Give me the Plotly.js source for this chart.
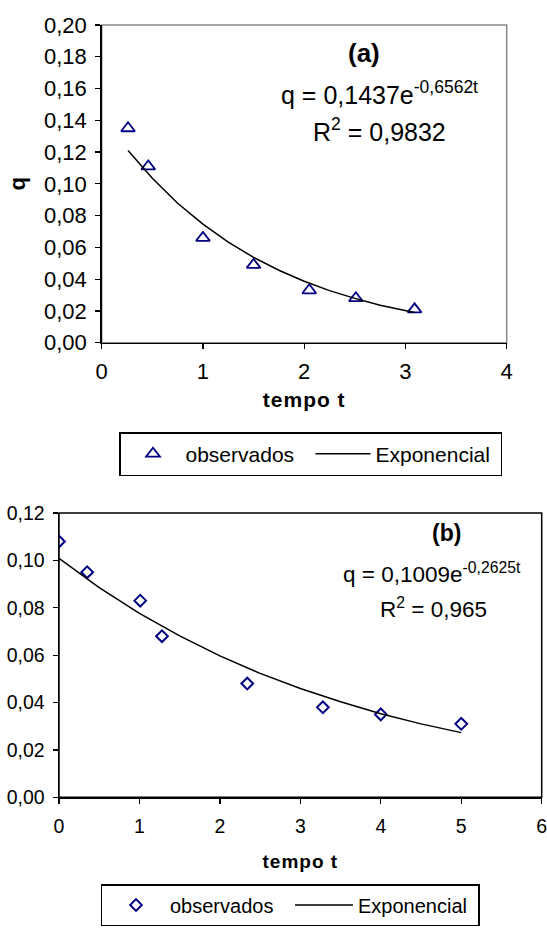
<!DOCTYPE html>
<html><head><meta charset="utf-8">
<script src="https://cdn.plot.ly/plotly-3.0.1.min.js"></script>
<style>
html,body{margin:0;padding:0;background:#fff;}
#chart{width:547px;height:931px;}
.xtitle,.x2title{letter-spacing:1px;}
</style></head>
<body><div id="chart"></div>
<script>
// ---- Chart (a) data ----
const tA_obs = [0.26, 0.46, 1.00, 1.50, 2.05, 2.51, 3.09];
const qA_obs = [0.135, 0.111, 0.066, 0.049, 0.033, 0.028, 0.021];
const tA_fit = [0.26, 0.50, 0.75, 1.00, 1.25, 1.50, 1.75, 2.00, 2.25, 2.50, 2.75, 3.09];
const qA_fit = [0.121, 0.1035, 0.0878, 0.0746, 0.0633, 0.0537, 0.0456, 0.0387, 0.0328, 0.0279, 0.0236, 0.0190];
const yTickValsA = [0, 0.02, 0.04, 0.06, 0.08, 0.10, 0.12, 0.14, 0.16, 0.18, 0.20];
const yTickTextA = ["0,00","0,02","0,04","0,06","0,08","0,10","0,12","0,14","0,16","0,18","0,20"];
const xTickValsA = [0, 1, 2, 3, 4];

// ---- Chart (b) data ----
const tB_obs = [0, 0.35, 1.01, 1.28, 2.34, 3.28, 4.00, 5.00];
const qB_obs = [0.108, 0.095, 0.083, 0.068, 0.048, 0.038, 0.035, 0.031];
const tB_fit = [0, 0.5, 1.0, 1.5, 2.0, 2.5, 3.0, 3.5, 4.0, 4.5, 5.0];
const qB_fit = [0.1009, 0.0885, 0.0776, 0.0681, 0.0597, 0.0523, 0.0459, 0.0403, 0.0353, 0.0310, 0.0273];
const yTickValsB = [0, 0.02, 0.04, 0.06, 0.08, 0.10, 0.12];
const yTickTextB = ["0,00","0,02","0,04","0,06","0,08","0,10","0,12"];
const xTickValsB = [0, 1, 2, 3, 4, 5, 6];

const legendNames = ["observados", "Exponencial"];
const xTitle = "tempo t";
const yTitleA = "q";
const eqA = "q = 0,1437e<sup>-0,6562t</sup>";
const r2A = "R<sup>2</sup> = 0,9832";
const eqB = "q = 0,1009e<sup>-0,2625t</sup>";
const r2B = "R<sup>2</sup> = 0,965";

const W = 547, H = 931;
const FONT = "Liberation Sans, Arial, sans-serif";
const navy = "#000080";

const traces = [
  {x: tA_obs, y: qA_obs, xaxis: 'x', yaxis: 'y', mode: 'markers', name: legendNames[0], legend: 'legend',
   marker: {symbol: 'triangle-up-open', size: 12, color: navy, line: {width: 1.8, color: navy}}},
  {x: tA_fit, y: qA_fit, xaxis: 'x', yaxis: 'y', mode: 'lines', name: legendNames[1], legend: 'legend',
   line: {color: '#000', width: 1.5}},
  {x: tB_obs, y: qB_obs, xaxis: 'x2', yaxis: 'y2', mode: 'markers', name: legendNames[0], legend: 'legend2',
   marker: {symbol: 'diamond-open', size: 9, color: navy, line: {width: 2, color: navy}}},
  {x: tB_fit, y: qB_fit, xaxis: 'x2', yaxis: 'y2', mode: 'lines', name: legendNames[1], legend: 'legend2',
   line: {color: '#000', width: 1.5}}
];

const dAx = [101.7/W, 506.7/W], dAy = [1-342.7/H, 1-25/H];
const dBx = [59/W, 541.7/W], dBy = [1-797.3/H, 1-513/H];

function mainAxis(dom, anchor, range, tv, tt, fs, extra) {
  return Object.assign({domain: dom, anchor: anchor, range: range, tickvals: tv, ticktext: tt,
    showgrid: false, zeroline: false, showline: true, linecolor: '#000', linewidth: 1.5,
    ticks: 'outside', ticklen: 5, tickwidth: 1.2, tickcolor: '#000', ticklabeloverflow: 'allow',
    tickfont: {family: FONT, size: fs, color: '#000'}, fixedrange: true}, extra || {});
}
function crossAxis(over, anchor, range, tv, dom) {
  return {domain: dom, overlaying: over, anchor: anchor, range: range, tickvals: tv, showticklabels: false,
    showgrid: false, zeroline: false, showline: false, ticks: 'inside', ticklen: 5, tickwidth: 1.2,
    tickcolor: '#000', fixedrange: true};
}

const layout = {
  width: W, height: H, margin: {l: 0, r: 0, t: 0, b: 0},
  paper_bgcolor: '#fff', plot_bgcolor: 'rgba(0,0,0,0)',
  font: {family: FONT, color: '#000'},
  xaxis: mainAxis(dAx, 'y', [0, 4], xTickValsA, xTickValsA.map(String), 22,
    {title: {text: '<b>' + xTitle + '</b>', font: {size: 21, family: FONT}, standoff: 9}, ticklabelstandoff: 3}),
  yaxis: mainAxis(dAy, 'x', [0, 0.20], yTickValsA, yTickTextA, 22,
    {title: {text: '<b>' + yTitleA + '</b>', font: {size: 22, family: FONT}, standoff: 12}, ticklabelstandoff: 4}),
  xaxis2: mainAxis(dBx, 'y2', [0, 6], xTickValsB, xTickValsB.map(String), 19.5,
    {title: {text: '<b>' + xTitle + '</b>', font: {size: 19, family: FONT}, standoff: 18}, ticklabelstandoff: 6}),
  yaxis2: mainAxis(dBy, 'x2', [0, 0.12], yTickValsB, yTickTextB, 19.5, {ticklabelstandoff: 4}),
  xaxis3: crossAxis('x', 'y', [0, 4], xTickValsA, dAx),
  yaxis3: crossAxis('y', 'x', [0, 0.20], yTickValsA, dAy),
  xaxis4: crossAxis('x2', 'y2', [0, 6], xTickValsB, dBx),
  yaxis4: crossAxis('y2', 'x2', [0, 0.12], yTickValsB, dBy),
  shapes: [
    {type: 'rect', xref: 'x domain', yref: 'y domain', x0: 0, x1: 1, y0: 0, y1: 1,
     line: {color: '#888', width: 1.5}, layer: 'below'},
    {type: 'rect', xref: 'x2 domain', yref: 'y2 domain', x0: 0, x1: 1, y0: 0, y1: 1,
     line: {color: '#000', width: 1.5}, layer: 'below'}
  ],
  annotations: [
    {xref: 'paper', yref: 'paper', x: 364/W, y: 1-53/H, text: '<b>(a)</b>', showarrow: false,
     font: {size: 26, family: FONT}, xanchor: 'center', yanchor: 'middle'},
    {xref: 'paper', yref: 'paper', x: 379/W, y: 1-93/H, text: eqA, showarrow: false,
     font: {size: 25, family: FONT}, xanchor: 'center', yanchor: 'middle'},
    {xref: 'paper', yref: 'paper', x: 379/W, y: 1-130/H, text: r2A, showarrow: false,
     font: {size: 25, family: FONT}, xanchor: 'center', yanchor: 'middle'},
    {xref: 'paper', yref: 'paper', x: 446/W, y: 1-533/H, text: '<b>(b)</b>', showarrow: false,
     font: {size: 23, family: FONT}, xanchor: 'center', yanchor: 'middle'},
    {xref: 'paper', yref: 'paper', x: 432/W, y: 1-573/H, text: eqB, showarrow: false,
     font: {size: 22.5, family: FONT}, xanchor: 'center', yanchor: 'middle'},
    {xref: 'paper', yref: 'paper', x: 433/W, y: 1-608/H, text: r2B, showarrow: false,
     font: {size: 22.5, family: FONT}, xanchor: 'center', yanchor: 'middle'}
  ],
  legend: {x: 119/W, y: 1-432/H, xanchor: 'left', yanchor: 'top', orientation: 'h',
    bordercolor: '#000', borderwidth: 1.5, bgcolor: '#fff', font: {size: 21, family: FONT},
    itemwidth: 55, entrywidth: 120},
  legend2: {x: 100.5/W, y: 1-884/H, xanchor: 'left', yanchor: 'top', orientation: 'h',
    bordercolor: '#000', borderwidth: 1.5, bgcolor: '#fff', font: {size: 20, family: FONT},
    itemwidth: 58, entrywidth: 115},
  showlegend: true
};

Plotly.newPlot('chart', traces, layout, {displayModeBar: false, staticPlot: true});
</script>
</body></html>
